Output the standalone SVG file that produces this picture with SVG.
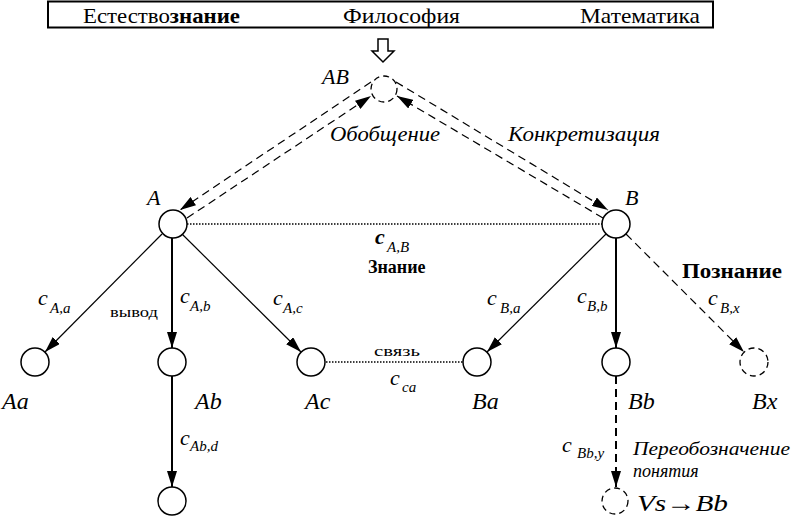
<svg xmlns="http://www.w3.org/2000/svg" width="792" height="516" viewBox="0 0 792 516">
<style>
text{font-family:"Liberation Serif","Times New Roman",serif;fill:#000}
.it{font-style:italic}
.b{font-weight:bold}
.lbl{font-size:24px;font-style:italic}
.c{font-size:22px;font-style:italic}
.sub{font-size:15px;font-style:italic}
.hdr{font-size:22px}
.node{fill:#fff;stroke:#000;stroke-width:1.5}
.dnode{fill:#fff;stroke:#000;stroke-width:1.3;stroke-dasharray:6 4}
.solid{stroke:#000;stroke-width:1.2;fill:none}
.thick{stroke:#000;stroke-width:2;fill:none}
.dash{stroke:#000;stroke-width:1.2;fill:none;stroke-dasharray:8 5}
.tdash{stroke:#000;stroke-width:2;fill:none;stroke-dasharray:8 5}
.dot{stroke:#000;stroke-width:1.5;fill:none;stroke-dasharray:1.5 1.5}
</style>
<defs>
<marker id="ah" markerUnits="userSpaceOnUse" markerWidth="16" markerHeight="10" refX="16" refY="5" orient="auto">
<path d="M0,0 L16,5 L0,10 z" fill="#000"/>
</marker>
</defs>
<g id="header">
<rect x="48" y="1.5" width="665" height="26" fill="#fff" stroke="#000" stroke-width="2"/>
<text class="hdr" x="83" y="23" textLength="157" lengthAdjust="spacingAndGlyphs">Естество<tspan class="b">знание</tspan></text>
<text class="hdr" x="343" y="23" textLength="117" lengthAdjust="spacingAndGlyphs">Философия</text>
<text class="hdr" x="580" y="23" textLength="120" lengthAdjust="spacingAndGlyphs">Математика</text>
<polygon points="378,39 388,39 388,51 394,51 383,62 372,51 378,51" fill="#fff" stroke="#000" stroke-width="1.5"/>
</g>
<g id="connectors">
<line class="dash" x1="371" y1="82" x2="180" y2="210" marker-end="url(#ah)"/>
<line class="dash" x1="187" y1="218" x2="371" y2="96" marker-end="url(#ah)"/>
<line class="dash" x1="396" y1="82" x2="608" y2="210" marker-end="url(#ah)"/>
<line class="dash" x1="603" y1="218" x2="397" y2="96" marker-end="url(#ah)"/>
<line class="dot" x1="187" y1="224" x2="602" y2="224"/>
<line class="dot" x1="326" y1="362" x2="463" y2="362"/>
<line class="solid" x1="162" y1="234" x2="45" y2="352" marker-end="url(#ah)"/>
<line class="thick" x1="172" y1="238" x2="172" y2="348" marker-end="url(#ah)"/>
<line class="solid" x1="182" y1="234" x2="301" y2="352" marker-end="url(#ah)"/>
<line class="solid" x1="606" y1="234" x2="487" y2="352" marker-end="url(#ah)"/>
<line class="thick" x1="616" y1="238" x2="616" y2="348" marker-end="url(#ah)"/>
<line class="dash" x1="626" y1="234" x2="744" y2="352" marker-end="url(#ah)"/>
<line class="thick" x1="172" y1="376" x2="172" y2="487" marker-end="url(#ah)"/>
<line class="tdash" x1="616" y1="376" x2="616" y2="487" marker-end="url(#ah)"/>
</g>
<g id="node-AB"><circle class="dnode" cx="384" cy="89" r="13"/><text class="c" x="322" y="84">AB</text></g>
<g id="node-A"><circle class="node" cx="173" cy="224" r="14"/><text class="c" x="147" y="205">A</text></g>
<g id="node-B"><circle class="node" cx="616" cy="224" r="14"/><text class="c" x="625" y="205">B</text></g>
<g id="node-Aa"><circle class="node" cx="35" cy="362" r="14"/><text class="lbl" x="2" y="409">Aa</text></g>
<g id="node-Ab"><circle class="node" cx="172" cy="362" r="14"/><text class="lbl" x="195" y="409">Ab</text></g>
<g id="node-Ac"><circle class="node" cx="311" cy="362" r="14"/><text class="lbl" x="305" y="409">Ac</text></g>
<g id="node-Ba"><circle class="node" cx="477" cy="362" r="14"/><text class="lbl" x="472" y="409">Ba</text></g>
<g id="node-Bb"><circle class="node" cx="616" cy="362" r="14"/><text class="lbl" x="628" y="409">Bb</text></g>
<g id="node-Bx"><circle class="dnode" cx="754" cy="362" r="14"/><text class="lbl" x="752" y="409">Bx</text></g>
<g id="node-Abd"><circle class="node" cx="172" cy="501" r="14"/></g>
<g id="node-Vs"><circle class="dnode" cx="615" cy="501" r="13"/><text class="lbl" x="637" y="511" textLength="91" lengthAdjust="spacingAndGlyphs">Vs→Bb</text></g>
<g id="labels">
<text class="it" font-size="20" x="330" y="141" textLength="110" lengthAdjust="spacingAndGlyphs">Обобщение</text>
<text class="it" font-size="20" x="508" y="141" textLength="152" lengthAdjust="spacingAndGlyphs">Конкретизация</text>
<text class="c b" x="375" y="244">c</text><text class="sub" x="387" y="252">A,B</text>
<text class="b" font-size="18" x="368" y="273">Знание</text>
<text class="b" font-size="20" x="682" y="278" textLength="100" lengthAdjust="spacingAndGlyphs">Познание</text>
<text class="c" x="38" y="305">c</text><text class="sub" x="50" y="313">A,a</text>
<text font-size="15" x="110" y="317" textLength="48" lengthAdjust="spacingAndGlyphs">вывод</text>
<text class="c" x="180" y="303">c</text><text class="sub" x="190" y="311">A,b</text>
<text class="c" x="273" y="305">c</text><text class="sub" x="283" y="313">A,c</text>
<text class="c" x="487" y="305">c</text><text class="sub" x="500" y="313">B,a</text>
<text class="c" x="577" y="303">c</text><text class="sub" x="587" y="311">B,b</text>
<text class="c" x="708" y="305">c</text><text class="sub" x="720" y="313">B,x</text>
<text font-size="15" x="374" y="356" textLength="46" lengthAdjust="spacingAndGlyphs">связь</text>
<text class="c" x="390" y="385">c</text><text class="sub" x="402" y="392">ca</text>
<text class="c" x="180" y="445">c</text><text class="sub" x="190" y="451">Ab,d</text>
<text class="c" x="562" y="452">c</text><text class="sub" x="577" y="458">Bb,y</text>
<text class="it" font-size="18" x="633" y="455" textLength="157" lengthAdjust="spacingAndGlyphs">Переобозначение</text>
<text class="it" font-size="18" x="633" y="477">понятия</text>
</g>
</svg>
